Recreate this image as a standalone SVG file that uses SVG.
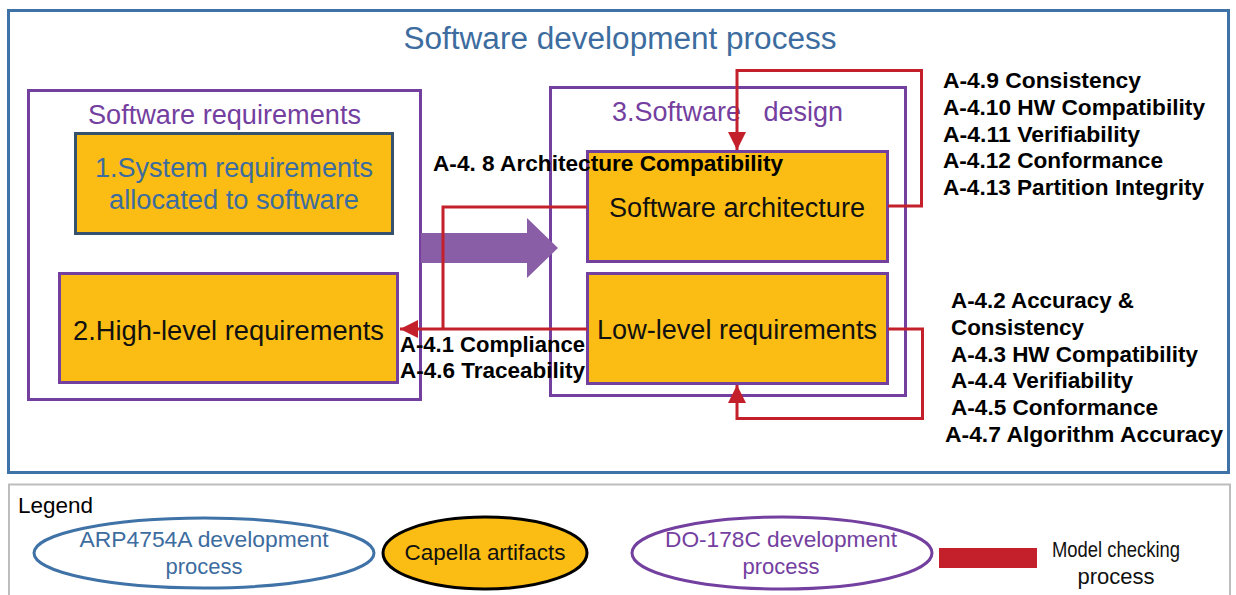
<svg xmlns="http://www.w3.org/2000/svg" width="1236" height="595" viewBox="0 0 1236 595">
  <style>
    .frame { fill: #ffffff; stroke: #3F72A6; stroke-width: 3; }
    .phase { fill: #ffffff; stroke: #7440A0; stroke-width: 3; }
    .artifact { fill: #FBBD13; stroke: #7440A0; stroke-width: 3; }
    .sysart { fill: #FBBD13; stroke: #35516E; stroke-width: 3; }
    .reg { font-family: "Liberation Sans", Arial, sans-serif; }
    .bold { font-family: "Liberation Sans", Arial, sans-serif; font-weight: bold; font-size: 22px; fill: #000; }
    .blue { fill: #3D6C9F; }
    .purple { fill: #7440A0; }
    .dark { fill: #111; }
    .check { fill: none; stroke: #C4202B; stroke-width: 3; }
  </style>
  <defs>
    <marker id="redhead" viewBox="0 0 10 10" refX="10" refY="5" markerWidth="6" markerHeight="6" markerUnits="strokeWidth" orient="auto">
      <path d="M0,0 L10,5 L0,10 z" fill="#C4202B"/>
    </marker>
  </defs>

  <rect width="1236" height="595" fill="#ffffff"/>

  <!-- outer process frame -->
  <g id="process">
    <rect class="frame" x="8.5" y="10.5" width="1220" height="462"/>
    <text class="reg blue" x="620" y="49" font-size="31" text-anchor="middle" textLength="433" lengthAdjust="spacingAndGlyphs">Software development process</text>
  </g>

  <!-- software requirements phase -->
  <g id="sw-requirements">
    <rect class="phase" x="28.5" y="90.5" width="392" height="309"/>
    <text class="reg purple" x="224.5" y="124" font-size="27" text-anchor="middle" textLength="273" lengthAdjust="spacingAndGlyphs">Software requirements</text>
  </g>

  <g id="system-requirements">
    <rect class="sysart" x="75.5" y="133.5" width="317" height="100"/>
    <text class="reg blue" x="234" y="177" font-size="27" text-anchor="middle" textLength="278" lengthAdjust="spacingAndGlyphs">1.System requirements</text>
    <text class="reg blue" x="234" y="209" font-size="27" text-anchor="middle" textLength="250" lengthAdjust="spacingAndGlyphs">allocated to software</text>
  </g>

  <g id="high-level-requirements">
    <rect class="artifact" x="59.5" y="273.5" width="338" height="109"/>
    <text class="reg dark" x="228.5" y="340" font-size="27" text-anchor="middle" textLength="311" lengthAdjust="spacingAndGlyphs">2.High-level requirements</text>
  </g>

  <!-- software design phase -->
  <g id="sw-design">
    <rect class="phase" x="550.5" y="87.5" width="355" height="308"/>
    <text class="reg purple" x="727.5" y="121" font-size="27" text-anchor="middle" textLength="231" lengthAdjust="spacingAndGlyphs" xml:space="preserve">3.Software   design</text>
  </g>

  <g id="sw-architecture">
    <rect class="artifact" x="587.5" y="151.5" width="300" height="110"/>
    <text class="reg dark" x="737" y="217" font-size="27" text-anchor="middle" textLength="256" lengthAdjust="spacingAndGlyphs">Software architecture</text>
  </g>

  <g id="low-level-requirements">
    <rect class="artifact" x="587.5" y="273.5" width="300" height="110"/>
    <text class="reg dark" x="737" y="339" font-size="27" text-anchor="middle" textLength="280" lengthAdjust="spacingAndGlyphs">Low-level requirements</text>
  </g>

  <!-- connectors -->
  <g id="connectors">
    <!-- flow from requirements into design -->
    <path d="M421,233 L527,233 L527,218 L558,248 L527,278 L527,263 L421,263 z" fill="#8A5DA7"/>
    <!-- architecture compatibility check back to high-level requirements -->
    <polyline class="check" points="587,207 443,207 443,329"/>
    <!-- compliance / traceability check -->
    <line class="check" x1="587" y1="329" x2="400" y2="329" marker-end="url(#redhead)"/>
    <!-- architecture self-checks -->
    <polyline class="check" points="888,206 921.5,206 921.5,70.5 737,70.5 737,150" marker-end="url(#redhead)"/>
    <!-- low-level requirement self-checks -->
    <polyline class="check" points="888,329 922.5,329 922.5,418.5 737,418.5 737,385" marker-end="url(#redhead)"/>
  </g>

  <!-- check labels -->
  <g id="labels">
    <text class="bold" x="433" y="171" textLength="350" lengthAdjust="spacingAndGlyphs">A-4. 8 Architecture Compatibility</text>
    <text class="bold" x="400" y="352" textLength="185" lengthAdjust="spacingAndGlyphs">A-4.1 Compliance</text>
    <text class="bold" x="400" y="378" textLength="185" lengthAdjust="spacingAndGlyphs">A-4.6 Traceability</text>

    <text class="bold" x="943" y="88" textLength="198" lengthAdjust="spacingAndGlyphs">A-4.9 Consistency</text>
    <text class="bold" x="943" y="115" textLength="262" lengthAdjust="spacingAndGlyphs">A-4.10 HW Compatibility</text>
    <text class="bold" x="943" y="142" textLength="197" lengthAdjust="spacingAndGlyphs">A-4.11 Verifiability</text>
    <text class="bold" x="943" y="168" textLength="220" lengthAdjust="spacingAndGlyphs">A-4.12 Conformance</text>
    <text class="bold" x="943" y="195" textLength="261" lengthAdjust="spacingAndGlyphs">A-4.13 Partition Integrity</text>

    <text class="bold" x="951" y="308" textLength="183" lengthAdjust="spacingAndGlyphs">A-4.2 Accuracy &amp;</text>
    <text class="bold" x="951" y="335" textLength="133" lengthAdjust="spacingAndGlyphs">Consistency</text>
    <text class="bold" x="951" y="362" textLength="247" lengthAdjust="spacingAndGlyphs">A-4.3 HW Compatibility</text>
    <text class="bold" x="951" y="388" textLength="182" lengthAdjust="spacingAndGlyphs">A-4.4 Verifiability</text>
    <text class="bold" x="951" y="415" textLength="207" lengthAdjust="spacingAndGlyphs">A-4.5 Conformance</text>
    <text class="bold" x="945" y="442" textLength="278" lengthAdjust="spacingAndGlyphs">A-4.7 Algorithm Accuracy</text>
  </g>

  <!-- legend -->
  <g id="legend">
    <rect x="9" y="484.5" width="1221" height="115" fill="#ffffff" stroke="#BDBDBD" stroke-width="2"/>
    <text class="reg" x="18" y="513" font-size="22" fill="#000" textLength="75" lengthAdjust="spacingAndGlyphs">Legend</text>

    <g id="legend-arp">
      <ellipse cx="204" cy="553" rx="170" ry="35" fill="#ffffff" stroke="#3F72A6" stroke-width="3"/>
      <text class="reg blue" x="204" y="547" font-size="22" text-anchor="middle" textLength="249" lengthAdjust="spacingAndGlyphs">ARP4754A development</text>
      <text class="reg blue" x="204" y="574" font-size="22" text-anchor="middle">process</text>
    </g>

    <g id="legend-capella">
      <ellipse cx="485" cy="553" rx="102" ry="36" fill="#FBBD13" stroke="#000" stroke-width="3"/>
      <text class="reg dark" x="485" y="560" font-size="22" text-anchor="middle" textLength="161" lengthAdjust="spacingAndGlyphs">Capella artifacts</text>
    </g>

    <g id="legend-do178c">
      <ellipse cx="782" cy="553" rx="150" ry="36" fill="#ffffff" stroke="#7440A0" stroke-width="3"/>
      <text class="reg purple" x="781" y="547" font-size="22" text-anchor="middle" textLength="232" lengthAdjust="spacingAndGlyphs">DO-178C development</text>
      <text class="reg purple" x="781" y="574" font-size="22" text-anchor="middle">process</text>
    </g>

    <g id="legend-model-checking">
      <rect x="939" y="548" width="98" height="20" fill="#C4202B"/>
      <text class="reg dark" x="1116" y="557" font-size="22" text-anchor="middle" textLength="128" lengthAdjust="spacingAndGlyphs">Model checking</text>
      <text class="reg dark" x="1116" y="584" font-size="22" text-anchor="middle">process</text>
    </g>
  </g>
</svg>
